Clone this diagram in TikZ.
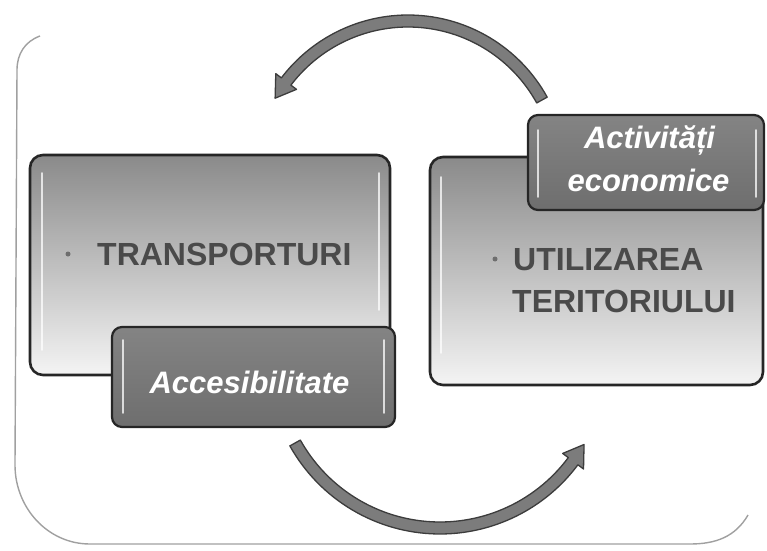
\documentclass[tikz,border=0pt]{standalone}
\usepackage{fontspec}
\setmainfont{Liberation Sans}
\usetikzlibrary{calc}
\definecolor{boxtop}{HTML}{8A8A8A}
\definecolor{boxbot}{HTML}{F4F4F4}
\definecolor{edgecol}{HTML}{262626}
\definecolor{tagfill}{HTML}{6E6E6E}
\definecolor{arrowfill}{HTML}{7C7C7C}
\definecolor{labeltext}{HTML}{4A4A4A}
\definecolor{framecol}{HTML}{A0A0A0}
\begin{document}
\begin{tikzpicture}[x=1pt,y=1pt,
  bigbox/.style={draw=edgecol, line width=2.6pt, rounded corners=13pt,
    top color=boxtop, bottom color=boxbot, inner sep=0pt},
  tagbox/.style={draw=edgecol, line width=2.2pt, rounded corners=10pt,
    top color=tagfill!85!white, bottom color=tagfill, inner sep=0pt},
  gloss/.style={white, line width=1.8pt, opacity=0.75, line cap=round},
  bigtext/.style={font=\fontsize{32}{38}\selectfont\bfseries, text=labeltext, inner sep=0pt},
  tagtext/.style={font=\fontsize{31}{36}\selectfont\bfseries\itshape, text=white, inner sep=0pt},
  dotmark/.style={circle, fill=labeltext!80!white, minimum size=5pt, inner sep=0pt},
  framepath/.style={draw=framecol, line width=1.4pt},
  looparrow/.style={fill=arrowfill, draw=edgecol!90!white, line width=1.3pt, line join=round}
]
\useasboundingbox (0,0) rectangle (767,550);

% outer frame
\draw[framepath] (40,514) to[out=200,in=90] (17,480) -- (15,85)
  to[out=-90,in=180] (90,6) -- (690,6) to[out=0,in=-120] (748,35);

% big boxes
\node[bigbox, minimum width=360pt, minimum height=220pt] (trbox) at (210,285) {};
\node[bigbox, minimum width=333pt, minimum height=228pt] (utbox) at (596.5,279) {};
\draw[gloss] (42,377) -- (42,200);
\draw[gloss] (379,377) -- (379,240);
\draw[gloss] (441,373) -- (441,197);

% tag boxes
\node[tagbox, minimum width=283pt, minimum height=100pt] (accbox) at (253.5,173) {};
\node[tagbox, minimum width=236pt, minimum height=95pt] (actbox) at (646,387.5) {};
\draw[gloss] (123,210) -- (123,137);
\draw[gloss] (384,210) -- (384,137);
\draw[gloss] (538,420) -- (538,353);
\draw[gloss] (756,420) -- (756,353);

% texts
\node[dotmark] (b1) at (68,296) {};
\node[bigtext, anchor=base west] (tr) at (97,285) {TRANSPORTURI};
\node[dotmark] (b2) at (495,291) {};
\node[bigtext, anchor=base west] (ut1) at (513,280) {UTILIZAREA};
\node[bigtext, anchor=base west] (ut2) at (512,238) {TERITORIULUI};
\node[tagtext, anchor=base] (act1) at (649.5,402) {Activități};
\node[tagtext, anchor=base] (act2) at (648.5,359) {economice};
\node[tagtext, anchor=base] (acc) at (249.5,157) {Accesibilitate};

% loop arrows
\coordinate (ctop) at (408,376);
\draw[looparrow]
  ($(ctop)+(28.9:159)$) arc[start angle=28.9, end angle=142.8, radius=159]
  -- ($(ctop)+(142.8:166)$) -- ($(ctop)+(150.3:153)$)
  -- ($(ctop)+(142.8:140)$) -- ($(ctop)+(142.8:147)$)
  arc[start angle=142.8, end angle=28.9, radius=147] -- cycle;

\coordinate (cbot) at (440,188);
\draw[looparrow]
  ($(cbot)+(209.2:172)$) arc[start angle=209.2, end angle=323.3, radius=172]
  -- ($(cbot)+(323.3:179)$) -- ($(cbot)+(330.2:166)$)
  -- ($(cbot)+(323.3:153)$) -- ($(cbot)+(323.3:160)$)
  arc[start angle=323.3, end angle=209.2, radius=160] -- cycle;
\end{tikzpicture}
\end{document}
